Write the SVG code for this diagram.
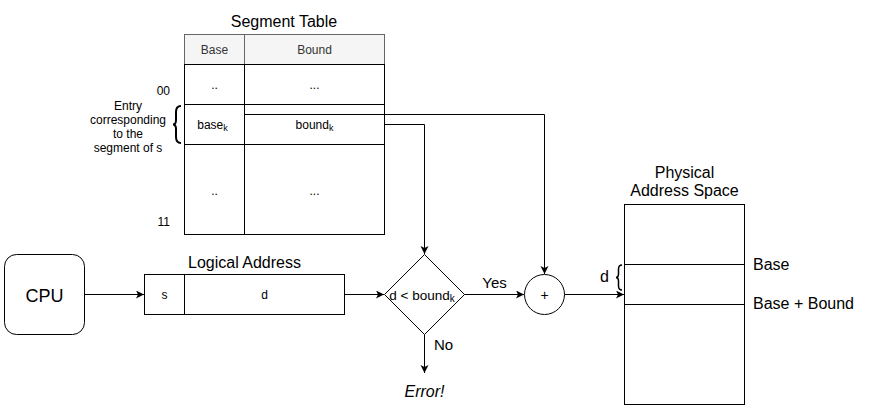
<svg xmlns="http://www.w3.org/2000/svg" width="873" height="409" viewBox="0 0 873 409">
<style>
text{font-family:"Liberation Sans",Arial,sans-serif;fill:#000}
.box{fill:#fff;stroke:#000;stroke-width:1}
.ln{fill:none;stroke:#000;stroke-width:1}
.c{text-anchor:middle}
.s12{font-size:12px}
.s15{font-size:15px}
.s16{font-size:16px}
</style>
<defs>
<marker id="arr" markerUnits="userSpaceOnUse" markerWidth="10" markerHeight="10" refX="8" refY="4" orient="auto">
<path d="M0,0 L8,4 L0,8 L2,4 Z" fill="#000"/>
</marker>
</defs>
<rect width="873" height="409" fill="#fff"/>

<g id="segment-table">
<text x="284" y="26.5" class="c s16">Segment Table</text>
<rect x="184.5" y="34.5" width="200" height="30" fill="#f5f5f5" stroke="#666"/>
<line x1="244.5" y1="34.5" x2="244.5" y2="64.5" stroke="#666"/>
<text x="214.5" y="53.5" class="c s12" style="fill:#333">Base</text>
<text x="314.5" y="53.5" class="c s12" style="fill:#333">Bound</text>
<rect x="184.5" y="64.5" width="200" height="170" class="box"/>
<line x1="244.5" y1="64.5" x2="244.5" y2="234.5" class="ln"/>
<line x1="184.5" y1="104.5" x2="384.5" y2="104.5" class="ln"/>
<line x1="184.5" y1="144.5" x2="384.5" y2="144.5" class="ln"/>
<line x1="244.5" y1="114.5" x2="384.5" y2="114.5" class="ln"/>
<text x="214.5" y="89" class="c s12">..</text>
<text x="314.5" y="89" class="c s12">...</text>
<text x="212.5" y="128.5" class="c s12">base<tspan font-size="9" dy="2">k</tspan></text>
<text x="314.5" y="128.5" class="c s12">bound<tspan font-size="9" dy="2">k</tspan></text>
<text x="214.5" y="195" class="c s12">..</text>
<text x="314.5" y="195" class="c s12">...</text>
<text x="170" y="94.5" class="s12" text-anchor="end">00</text>
<text x="170" y="225.5" class="s12" text-anchor="end">11</text>
</g>

<g id="entry-label">
<text x="128" y="109.5" class="c s12">Entry</text>
<text x="128" y="123.5" class="c s12">corresponding</text>
<text x="128" y="138" class="c s12">to the</text>
<text x="128" y="152" class="c s12">segment of s</text>
<path d="M181,106 Q176,106 176,112 L176,120 Q176,124.5 173,124.5 Q176,124.5 176,129 L176,137 Q176,143 181,143" fill="none" stroke="#000" stroke-width="2"/>
</g>

<g id="cpu">
<rect x="4.5" y="254.5" width="80" height="80" rx="12" class="box"/>
<text x="44.5" y="302" class="c" font-size="18">CPU</text>
</g>

<g id="logical-address">
<text x="244.5" y="267.5" class="c s16">Logical Address</text>
<rect x="144.5" y="274.5" width="200" height="40" class="box"/>
<line x1="184.5" y1="274.5" x2="184.5" y2="314.5" class="ln"/>
<text x="164.5" y="299" class="c s12">s</text>
<text x="264.5" y="299" class="c s12">d</text>
</g>

<g id="check">
<path d="M424.5,254.5 L464.5,294.5 L424.5,334.5 L384.5,294.5 Z" class="box"/>
<text x="422" y="300" class="c" font-size="13.5">d &lt; bound<tspan font-size="10" dy="2">k</tspan></text>
</g>

<g id="adder">
<circle cx="544.5" cy="294.5" r="20" class="box"/>
<text x="544.5" y="299.5" class="c" font-size="14">+</text>
</g>

<g id="error">
<text x="424.5" y="397" class="c s16" font-style="italic">Error!</text>
</g>

<g id="physical">
<text x="684.5" y="177.5" class="c s16">Physical</text>
<text x="684.5" y="195.5" class="c s16">Address Space</text>
<rect x="624.5" y="204.5" width="120" height="200" class="box"/>
<line x1="624.5" y1="264.5" x2="744.5" y2="264.5" class="ln"/>
<line x1="624.5" y1="304.5" x2="744.5" y2="304.5" class="ln"/>
<text x="753" y="270" class="s16">Base</text>
<text x="753" y="309" class="s16">Base + Bound</text>
<text x="604.5" y="281.5" class="c s16">d</text>
<path d="M622,265 Q618.5,265 618.5,269 L618.5,274 Q618.5,277.5 616,277.5 Q618.5,277.5 618.5,281 L618.5,286 Q618.5,290 622,290" fill="none" stroke="#000" stroke-width="1.5"/>
</g>

<g id="connectors">
<line x1="84.5" y1="294.5" x2="144" y2="294.5" class="ln" marker-end="url(#arr)"/>
<line x1="344.5" y1="294.5" x2="384" y2="294.5" class="ln" marker-end="url(#arr)"/>
<line x1="464.5" y1="294.5" x2="524" y2="294.5" class="ln" marker-end="url(#arr)"/>
<line x1="564.5" y1="294.5" x2="624" y2="294.5" class="ln" marker-end="url(#arr)"/>
<line x1="424.5" y1="334.5" x2="424.5" y2="373" class="ln" marker-end="url(#arr)"/>
<path d="M384.5,124.5 L424.5,124.5 L424.5,254" class="ln" marker-end="url(#arr)"/>
<path d="M384.5,114.5 L544.5,114.5 L544.5,274" class="ln" marker-end="url(#arr)"/>
<text x="494.5" y="287.5" class="c s15">Yes</text>
<text x="443.5" y="349.5" class="c s15">No</text>
</g>
</svg>
